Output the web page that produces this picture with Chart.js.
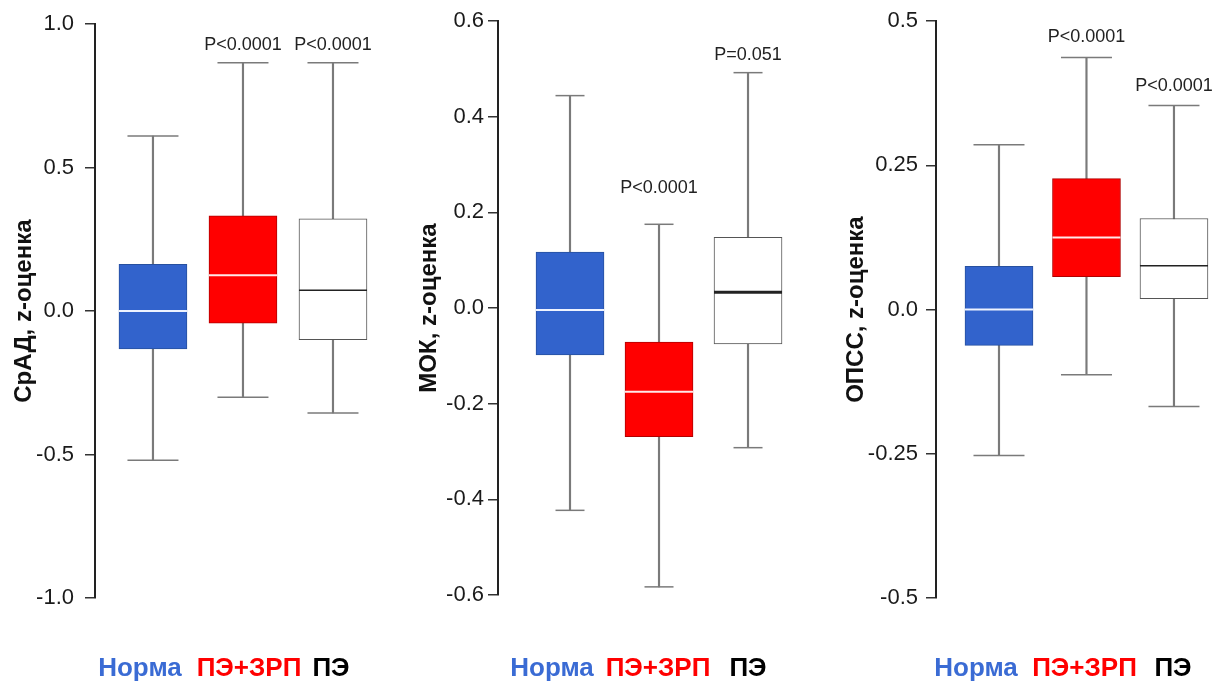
<!DOCTYPE html>
<html lang="ru">
<head>
<meta charset="utf-8">
<title>СрАД, МОК, ОПСС – z-оценки</title>
<script src="https://cdn.jsdelivr.net/npm/chart.js@4.4.1/dist/chart.umd.min.js"></script>
<style>
  html, body { margin: 0; padding: 0; background: #fff; }
  #wrap { position: relative; width: 1226px; height: 684px; overflow: hidden; }
  .panel { position: absolute; top: 0; }
</style>
</head>
<body>
<div id="wrap">
  <canvas id="c1" class="panel" width="409" height="684" style="left:0"></canvas>
  <canvas id="c2" class="panel" width="409" height="684" style="left:409px"></canvas>
  <canvas id="c3" class="panel" width="408" height="684" style="left:818px"></canvas>
</div>
<script>
// Groups
const groups = ['Норма', 'ПЭ+ЗРП', 'ПЭ'];

// СрАД
const sradLow  = [-0.52, -0.30, -0.355];
const sradQ1   = [-0.132, -0.042, -0.10];
const sradMed  = [0.0, 0.125, 0.073];
const sradQ3   = [0.163, 0.332, 0.322];
const sradHigh = [0.61, 0.866, 0.866];
const sradP    = ['', 'P<0.0001', 'P<0.0001'];
const sradTicks = ['-1.0', '-0.5', '0.0', '0.5', '1.0'];

// МОК
const mokLow  = [-0.423, -0.583, -0.292];
const mokQ1   = [-0.098, -0.269, -0.075];
const mokMed  = [-0.004, -0.175, 0.033];
const mokQ3   = [0.117, -0.071, 0.148];
const mokHigh = [0.444, 0.175, 0.492];
const mokP    = ['', 'P<0.0001', 'P=0.051'];
const mokTicks = ['-0.6', '-0.4', '-0.2', '0.0', '0.2', '0.4', '0.6'];

// ОПСС
const opssLow  = [-0.253, -0.113, -0.168];
const opssQ1   = [-0.062, 0.057, 0.019];
const opssMed  = [0.0, 0.125, 0.076];
const opssQ3   = [0.075, 0.227, 0.158];
const opssHigh = [0.286, 0.437, 0.354];
const opssP    = ['', 'P<0.0001', 'P<0.0001'];
const opssTicks = ['-0.5', '-0.25', '0.0', '0.25', '0.5'];

// Styles
const FONT = '"Liberation Sans", Arial, sans-serif';
const boxFill   = ['#3263cc', '#ff0000', '#ffffff'];
const boxEdge   = ['#27509f', '#b00000', '#555555'];
const medColors = ['#eef3ff', '#ffe8e8', '#222222'];
const textColors = ['#3a6bd4', '#ff0000', '#000000'];
const whiskerColor = '#7a7a7a';

const pts = v => v.map((y, i) => ({ x: i + 1, y }));
const spans = (a, b) => a.map((v, i) => ({ x: i + 1, y: [v, b[i]] }));

const annotate = {
  id: 'annotate',
  afterDatasetsDraw(chart, args, opts) {
    const { ctx, scales: { x, y } } = chart;
    ctx.save();
    ctx.textAlign = 'center';
    ctx.textBaseline = 'middle';
    ctx.fillStyle = '#222';
    ctx.font = '18px ' + FONT;
    opts.pText.forEach((t, i) => {
      if (!t) return;
      ctx.fillText(t, x.getPixelForValue(i + 1), y.getPixelForValue(opts.high[i]) - opts.pGap[i]);
    });
    ctx.font = 'bold 26px ' + FONT;
    groups.forEach((g, i) => {
      ctx.fillStyle = textColors[i];
      ctx.fillText(g, x.getPixelForValue(i + 1) + opts.labelShift[i], 669);
    });
    ctx.restore();
  }
};

function makeChart(id, c) {
  return new Chart(document.getElementById(id), {
    data: {
      datasets: [
        { type: 'bar', data: spans(c.low, c.high), backgroundColor: whiskerColor,
          barThickness: 1.5, grouped: false, order: 3 },
        { type: 'bar', data: spans(c.q1, c.q3), backgroundColor: boxFill, borderColor: boxEdge,
          borderWidth: 1, borderSkipped: false, barThickness: 68, grouped: false, order: 2 },
        { type: 'scatter', data: pts(c.high).concat(pts(c.low)), pointStyle: 'line',
          pointRadius: c.capRadius, pointHoverRadius: c.capRadius,
          pointBorderColor: whiskerColor, pointBorderWidth: 1.5, order: 1, clip: false },
        { type: 'scatter', data: pts(c.med), pointStyle: 'line',
          pointRadius: 34, pointHoverRadius: 34,
          pointBorderColor: medColors, pointBorderWidth: c.medWidth, order: 0, clip: false }
      ]
    },
    options: {
      responsive: false,
      animation: false,
      events: [],
      layout: {
        autoPadding: false,
        padding: { top: 21, bottom: c.padBottom, left: 0, right: c.padRight }
      },
      scales: {
        x: { type: 'linear', offset: false, min: c.xMin, max: c.xMax, display: false },
        y: {
          min: c.min, max: c.max,
          ticks: {
            stepSize: c.step,
            padding: c.tickPad,
            color: '#1a1a1a',
            font: { family: FONT, size: 22 },
            callback: v => c.ticks.find(l => Math.abs(parseFloat(l) - v) < 1e-6) ?? ''
          },
          grid: { drawOnChartArea: false, tickLength: 10, color: '#333', lineWidth: 1.5 },
          border: { color: '#222', width: 2 },
          title: {
            display: true, text: c.title, color: '#111',
            font: { family: FONT, size: 24, weight: 'bold' },
            padding: { top: c.titlePad, bottom: 0 }
          },
          afterFit(s) { s.width = c.axisWidth; }
        }
      },
      plugins: {
        legend: { display: false },
        tooltip: { enabled: false },
        annotate: { pText: c.pText, high: c.high, pGap: c.pGap, labelShift: c.labelShift }
      }
    },
    plugins: [annotate]
  });
}

makeChart('c1', {
  low: sradLow, q1: sradQ1, med: sradMed, q3: sradQ3, high: sradHigh,
  pText: sradP, ticks: sradTicks, title: 'СрАД, z-оценка',
  min: -1, max: 1, step: 0.5,
  xMin: 0.356, xMax: 3.689, axisWidth: 95, padRight: 14, padBottom: 86,
  titlePad: 10, tickPad: 11, capRadius: 25.5, medWidth: [2, 2, 1.5],
  pGap: [0, 18, 18], labelShift: [-13, 6, -2]
});

makeChart('c2', {
  low: mokLow, q1: mokQ1, med: mokMed, q3: mokQ3, high: mokHigh,
  pText: mokP, ticks: mokTicks, title: 'МОК, z-оценка',
  min: -0.6, max: 0.6, step: 0.2,
  xMin: 0.191, xMax: 3.629, axisWidth: 89, padRight: 14, padBottom: 89,
  titlePad: 6, tickPad: 4, capRadius: 14.5, medWidth: [2, 2, 3],
  pGap: [0, 36, 18], labelShift: [-18, -1, 0]
});

makeChart('c3', {
  low: opssLow, q1: opssQ1, med: opssMed, q3: opssQ3, high: opssHigh,
  pText: opssP, ticks: opssTicks, title: 'ОПСС, z-оценка',
  min: -0.5, max: 0.5, step: 0.25,
  xMin: 0.28, xMax: 3.549, axisWidth: 118, padRight: 4, padBottom: 86,
  titlePad: 24, tickPad: 8, capRadius: 25.5, medWidth: [2, 2, 1.5],
  pGap: [0, 21, 19], labelShift: [-23, -2, -1]
});
</script>
</body>
</html>
